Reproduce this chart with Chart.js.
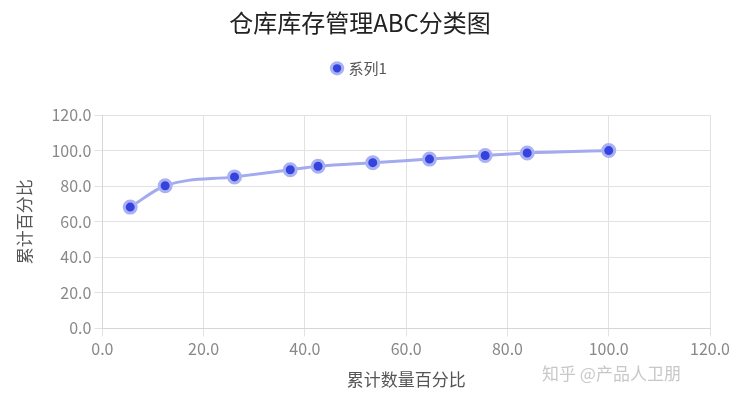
<!DOCTYPE html>
<html><head><meta charset="utf-8">
<script src="https://cdn.jsdelivr.net/npm/chart.js@4/dist/chart.umd.min.js"></script>
<style>
html,body{margin:0;padding:0;background:#fff;}
#wrap{position:relative;width:738px;height:403px;}
#mark{position:absolute;left:542px;top:360px;font:17px "Noto Sans CJK SC";color:#c8c8c8;}
</style></head>
<body>
<div id="wrap"><canvas id="c" width="738" height="403"></canvas><div id="mark">知乎 @产品人卫朋</div></div>
<script>
const xValues = [5.5, 12.4, 26.1, 37.1, 42.6, 53.4, 64.6, 75.6, 83.9, 100];
const yValues = [68.2, 80.2, 85.2, 89.2, 91.2, 93.2, 95.2, 97.2, 98.6, 100];
const seriesName = "系列1";
const font = "'Noto Sans CJK SC', 'Microsoft YaHei', sans-serif";

new Chart(document.getElementById("c"), {
  type: "line",
  data: {
    datasets: [{
      label: seriesName,
      data: xValues.map((x, i) => ({ x: x, y: yValues[i] })),
      borderColor: "#a3aaf0",
      borderWidth: 3,
      tension: 0.35,
      cubicInterpolationMode: "monotone",
      pointRadius: 6,
      pointBorderWidth: 3,
      pointBorderColor: "#aab1f3",
      pointBackgroundColor: "#3443dd",
      fill: false
    }]
  },
  options: {
    responsive: false,
    animation: false,
    layout: { padding: { left: 10, right: 28, top: 0, bottom: 9 } },
    plugins: {
      title: { display: true, text: "仓库库存管理ABC分类图", color: "#222",
        font: { family: font, size: 24, weight: "normal" }, padding: { top: 8, bottom: 8 } },
      legend: { labels: { color: "#555", font: { family: font, size: 15 },
        usePointStyle: true, pointStyle: "circle", boxWidth: 8, boxHeight: 8, padding: 16 } },
      subtitle: { display: true, text: " ", weight: 500, font: { size: 1 }, padding: { top: 0, bottom: 28 } },
      tooltip: { enabled: false }
    },
    scales: {
      x: {
        type: "linear", min: 0, max: 120,
        ticks: { stepSize: 20, color: "#888", font: { family: font, size: 16 },
          callback: v => v.toFixed(1) },
        grid: { color: "#e2e2e2" },
        border: { color: "#d6d6d6" },
        title: { display: true, text: "累计数量百分比", color: "#555", font: { family: font, size: 17 }, padding: { top: 8 } }
      },
      y: {
        min: 0, max: 120,
        ticks: { stepSize: 20, color: "#888", font: { family: font, size: 16 },
          callback: v => v.toFixed(1) },
        grid: { color: "#e2e2e2" },
        border: { color: "#d6d6d6" },
        title: { display: true, text: "累计百分比", color: "#555", font: { family: font, size: 17 }, padding: { bottom: 14 } }
      }
    }
  }
});
</script>
</body></html>
